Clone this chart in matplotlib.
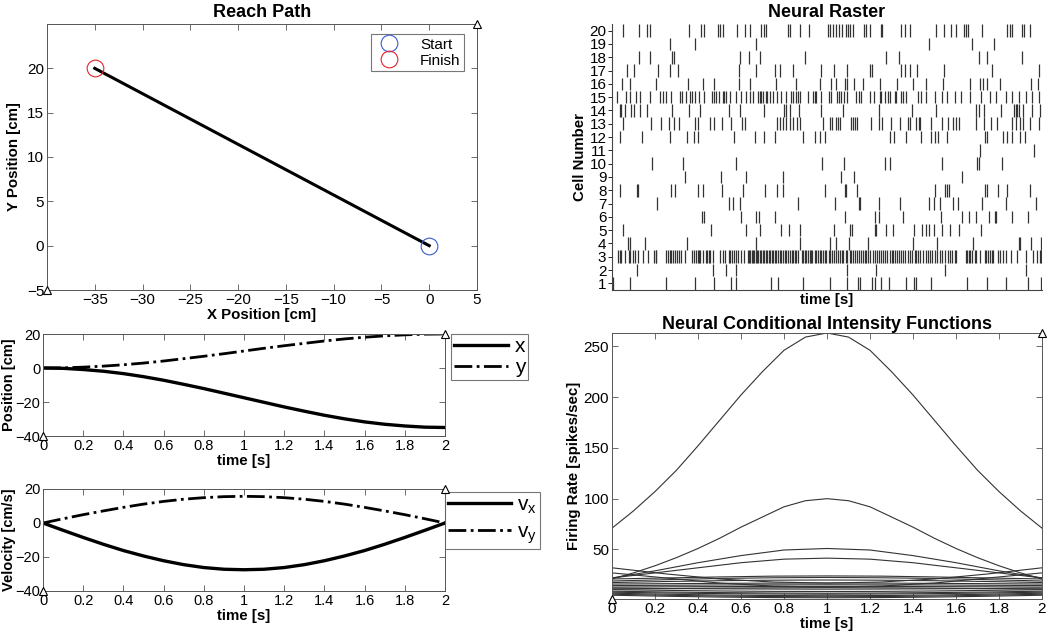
import numpy as np
import matplotlib
matplotlib.use("Agg")
import matplotlib.pyplot as plt
from matplotlib.ticker import FuncFormatter

plt.rcParams['font.family'] = ['Liberation Sans', 'DejaVu Sans']

# ---------------- data ----------------
# reach path (cm)
path_x = [0, -35]
path_y = [0, 20]
start_pt = (0, 0)
finish_pt = (-35, 20)

# position / velocity vs time, sampled every 0.1 s
t_kin = [0.0, 0.1, 0.2, 0.3, 0.4, 0.5, 0.6, 0.7, 0.8, 0.9, 1.0,
         1.1, 1.2, 1.3, 1.4, 1.5, 1.6, 1.7, 1.8, 1.9, 2.0]
pos_x = [0, -0.2, -0.9, -1.9, -3.3, -5.1, -7.2, -9.6, -12.1, -14.8, -17.5,
         -20.2, -22.9, -25.4, -27.8, -29.9, -31.7, -33.1, -34.1, -34.8, -35]
pos_y = [0, 0.1, 0.5, 1.1, 1.9, 2.9, 4.1, 5.5, 6.9, 8.4, 10.0,
         11.6, 13.1, 14.5, 15.9, 17.1, 18.1, 18.9, 19.5, 19.9, 20]
vel_x = [0, -4.3, -8.5, -12.5, -16.2, -19.4, -22.2, -24.5, -26.2, -27.2, -27.5,
         -27.2, -26.2, -24.5, -22.2, -19.4, -16.2, -12.5, -8.5, -4.3, 0]
vel_y = [0, 2.5, 4.9, 7.1, 9.2, 11.1, 12.7, 14.0, 14.9, 15.5, 15.7,
         15.5, 14.9, 14.0, 12.7, 11.1, 9.2, 7.1, 4.9, 2.5, 0]

# spike times (s) for each cell, cell 1 .. 20
spikes = {
    1: [0.005, 0.085, 0.253, 0.384, 0.473, 0.555, 0.575, 0.738, 0.772, 0.888, 1.012, 1.093, 1.144,
        1.155, 1.209, 1.222, 1.253, 1.288, 1.369, 1.403, 1.412, 1.485, 1.651, 1.744, 1.834, 1.935, 1.997],
    2: [0.116, 0.470, 0.529, 0.578, 1.093, 1.226, 1.550, 1.927],
    3: [0.028, 0.036, 0.043, 0.059, 0.079, 0.085, 0.098, 0.105, 0.121, 0.144, 0.167, 0.195, 0.203,
        0.206, 0.250, 0.260, 0.268, 0.276, 0.284, 0.291, 0.302, 0.312, 0.322, 0.338, 0.374, 0.381,
        0.392, 0.400, 0.405, 0.411, 0.423, 0.436, 0.442, 0.451, 0.457, 0.470, 0.501, 0.516, 0.524,
        0.544, 0.550, 0.560, 0.566, 0.575, 0.586, 0.602, 0.612, 0.633, 0.637, 0.643, 0.650, 0.656,
        0.662, 0.668, 0.674, 0.681, 0.687, 0.695, 0.702, 0.709, 0.715, 0.721, 0.730, 0.736, 0.743,
        0.749, 0.758, 0.764, 0.772, 0.780, 0.786, 0.795, 0.805, 0.811, 0.820, 0.826, 0.836, 0.842,
        0.851, 0.857, 0.867, 0.882, 0.888, 0.898, 0.904, 0.912, 0.919, 0.926, 0.932, 0.943, 0.950,
        0.958, 0.966, 0.974, 0.981, 0.991, 0.997, 1.009, 1.016, 1.025, 1.031, 1.040, 1.050, 1.059,
        1.068, 1.074, 1.087, 1.093, 1.105, 1.113, 1.121, 1.130, 1.140, 1.149, 1.160, 1.167, 1.175,
        1.183, 1.191, 1.202, 1.214, 1.223, 1.233, 1.242, 1.251, 1.260, 1.270, 1.279, 1.291, 1.301,
        1.307, 1.315, 1.326, 1.335, 1.346, 1.353, 1.361, 1.377, 1.384, 1.397, 1.408, 1.416, 1.425,
        1.434, 1.447, 1.459, 1.470, 1.481, 1.490, 1.501, 1.512, 1.524, 1.536, 1.547, 1.563, 1.574,
        1.583, 1.594, 1.602, 1.645, 1.651, 1.660, 1.667, 1.673, 1.687, 1.695, 1.710, 1.733, 1.741,
        1.749, 1.757, 1.766, 1.772, 1.795, 1.806, 1.819, 1.831, 1.857, 1.884, 1.924, 1.958, 1.977,
        1.989, 1.997],
    4: [0.074, 0.082, 0.152, 0.349, 0.668, 0.873, 1.016, 1.043, 1.102, 1.191, 1.400, 1.512, 1.679,
        1.893, 1.899, 1.950, 1.997],
    5: [0.051, 0.462, 0.625, 0.687, 0.788, 0.823, 0.873, 1.031, 1.105, 1.118, 1.222, 1.229, 1.273,
        1.307, 1.403, 1.443, 1.459, 1.474, 1.496, 1.536, 1.574, 1.614, 1.718],
    6: [0.420, 0.426, 0.602, 0.671, 0.682, 0.760, 1.082, 1.222, 1.242, 1.353, 1.532, 1.629, 1.660,
        1.691, 1.753, 1.780, 1.784, 1.862, 1.935],
    7: [0.211, 0.544, 0.563, 0.594, 0.865, 1.037, 1.149, 1.155, 1.242, 1.338, 1.473, 1.498, 1.524,
        1.586, 1.609, 1.722, 1.834, 1.971],
    8: [0.036, 0.116, 0.122, 0.276, 0.291, 0.400, 0.423, 0.513, 0.609, 0.710, 0.767, 0.795, 0.989,
        1.082, 1.090, 1.140, 1.501, 1.547, 1.558, 1.567, 1.733, 1.744, 1.795, 1.837, 1.946],
    9: [0.338, 0.509, 0.625, 0.795, 1.064, 1.124, 1.628],
    10: [0.188, 0.330, 0.578, 0.977, 1.078, 1.268, 1.291, 1.536, 1.699, 1.705, 1.816],
    11: [1.710, 1.961],
    12: [0.039, 0.141, 0.268, 0.349, 0.381, 0.400, 0.566, 0.664, 0.705, 0.760, 0.888, 0.943, 0.969,
         0.992, 1.291, 1.312, 1.369, 1.439, 1.485, 1.501, 1.516, 1.558, 1.734, 1.745, 1.819, 1.836,
         1.862, 1.896, 1.919],
    13: [0.051, 0.183, 0.229, 0.265, 0.287, 0.310, 0.384, 0.400, 0.457, 0.473, 0.512, 0.555, 0.606,
         0.620, 0.767, 0.780, 0.795, 0.811, 0.826, 0.842, 0.861, 0.873, 0.981, 1.016, 1.025, 1.040,
         1.053, 1.062, 1.113, 1.121, 1.129, 1.141, 1.206, 1.242, 1.257, 1.296, 1.341, 1.377, 1.384,
         1.416, 1.426, 1.434, 1.485, 1.536, 1.563, 1.586, 1.598, 1.614, 1.692, 1.729, 1.764, 1.791,
         1.862, 1.878, 1.896, 1.912, 1.946, 1.986],
    14: [0.036, 0.043, 0.060, 0.090, 0.101, 0.129, 0.163, 0.281, 0.357, 0.408, 0.544, 0.594, 0.705,
         0.798, 0.811, 0.829, 0.870, 0.974, 1.074, 1.242, 1.397, 1.505, 1.695, 1.707, 1.729, 1.811,
         1.868, 1.877, 1.884, 1.891, 1.912, 1.955, 1.989],
    15: [0.025, 0.064, 0.085, 0.110, 0.129, 0.175, 0.222, 0.237, 0.253, 0.276, 0.315, 0.327, 0.346,
         0.364, 0.372, 0.388, 0.405, 0.426, 0.465, 0.474, 0.485, 0.496, 0.516, 0.521, 0.532, 0.547,
         0.578, 0.602, 0.622, 0.643, 0.656, 0.681, 0.687, 0.695, 0.702, 0.715, 0.721, 0.733, 0.749,
         0.767, 0.788, 0.811, 0.834, 0.842, 0.854, 0.865, 0.873, 0.912, 0.935, 0.943, 0.950, 0.974,
         1.009, 1.020, 1.048, 1.056, 1.067, 1.078, 1.095, 1.133, 1.149, 1.160, 1.198, 1.217, 1.245,
         1.253, 1.268, 1.284, 1.291, 1.315, 1.322, 1.343, 1.353, 1.369, 1.423, 1.439, 1.462, 1.501,
         1.536, 1.560, 1.594, 1.625, 1.664, 1.718, 1.757, 1.788, 1.831, 1.862, 1.893, 1.924, 1.955,
         1.986],
    16: [0.048, 0.085, 0.206, 0.353, 0.423, 0.474, 0.589, 0.643, 0.764, 0.857, 0.969, 1.020, 1.042,
         1.082, 1.093, 1.124, 1.167, 1.245, 1.327, 1.400, 1.459, 1.540, 1.664, 1.713, 1.726, 1.744,
         1.806, 1.950, 1.981],
    17: [0.071, 0.101, 0.216, 0.271, 0.307, 0.591, 0.668, 0.757, 0.780, 0.842, 0.974, 1.033, 1.093,
         1.202, 1.211, 1.343, 1.361, 1.388, 1.420, 1.543, 1.767, 1.984],
    18: [0.124, 0.175, 0.279, 0.287, 0.595, 0.637, 0.690, 0.896, 1.273, 1.333, 1.707, 1.744, 1.909],
    19: [0.271, 0.384, 0.668, 1.474, 1.674, 1.775],
    20: [0.051, 0.124, 0.164, 0.178, 0.357, 0.412, 0.426, 0.495, 0.504, 0.516, 0.581, 0.619, 0.640,
         0.693, 0.705, 0.718, 0.817, 0.826, 0.876, 0.915, 1.006, 1.016, 1.028, 1.040, 1.056, 1.071,
         1.087, 1.098, 1.109, 1.121, 1.170, 1.183, 1.202, 1.250, 1.257, 1.346, 1.361, 1.388, 1.505,
         1.544, 1.578, 1.602, 1.636, 1.645, 1.656, 1.721, 1.837, 1.850, 1.862, 1.907, 1.915, 1.946],
}

# conditional intensity functions (spikes/sec)
t_fine = t_kin
cif_fine = [
    [71, 88, 107, 128, 152, 177, 202, 225, 246, 259, 263, 259, 246, 225, 202, 177, 152, 128, 107, 88, 71],
    [21, 27, 34, 42, 51, 61, 72, 82, 92, 98, 100, 98, 92, 82, 72, 61, 51, 42, 34, 27, 21],
]
t_mid = [0.0, 0.2, 0.4, 0.6, 0.8, 1.0, 1.2, 1.4, 1.6, 1.8, 2.0]
cif_mid = [
    [22, 29, 37, 44, 49.5, 51, 49.5, 44, 37, 29, 22],
    [22, 27, 32, 37, 40.5, 41.5, 40.5, 37, 32, 27, 22],
]
t_coarse = [0.0, 0.25, 0.5, 0.75, 1.0, 1.25, 1.5, 1.75, 2.0]
cif_coarse = [
    [32, 26, 21, 18, 17, 18, 21, 26, 32],
    [27, 22, 17, 14, 13, 14, 17, 22, 27],
    [21, 22, 23, 23.8, 24, 23.8, 23, 22, 21],
    [19, 20.3, 21.5, 22.2, 22.5, 22.2, 21.5, 20.3, 19],
    [17.5, 18.5, 19.3, 19.8, 20, 19.8, 19.3, 18.5, 17.5],
    [16, 16.4, 16.7, 16.9, 17, 16.9, 16.7, 16.4, 16],
    [14.5, 14.8, 15.1, 15.2, 15.3, 15.2, 15.1, 14.8, 14.5],
    [13, 13.3, 13.5, 13.6, 13.7, 13.6, 13.5, 13.3, 13],
    [11, 11.5, 12, 12.3, 12.5, 12.3, 12, 11.5, 11],
    [12, 11.6, 11.3, 11.1, 11, 11.1, 11.3, 11.6, 12],
    [10.5, 9.8, 9.2, 8.8, 8.7, 8.8, 9.2, 9.8, 10.5],
    [9, 8.2, 7.6, 7.2, 7, 7.2, 7.6, 8.2, 9],
    [8, 7.2, 6.6, 6.2, 6, 6.2, 6.6, 7.2, 8],
    [7, 6, 5.2, 4.7, 4.5, 4.7, 5.2, 6, 7],
    [6, 5, 4.2, 3.7, 3.5, 3.7, 4.2, 5, 6],
    [5, 4, 3.2, 2.7, 2.5, 2.7, 3.2, 4, 5],
]

# ---------------- figure ----------------
fig = plt.figure(figsize=(10.5, 6.36), dpi=100)
TICK = 11
LAB = 10.8
TIT = 13
fmt_g = FuncFormatter(lambda v, p: '%g' % round(v, 6))


def box_style(ax, size=TICK):
    ax.tick_params(direction='in', top=True, right=True, labelsize=size, length=4,
                   width=0.6, color='#555555', pad=2)
    for s in ax.spines.values():
        s.set_linewidth(0.7)
        s.set_color('#555555')


def corner_marks(ax):
    x0, x1 = ax.get_xlim()
    y0, y1 = ax.get_ylim()
    ax.plot([x0, x1], [y0, y1], ls='none', marker='^', ms=6, mfc='white', mec='k',
            mew=0.8, clip_on=False, zorder=10)


# Reach path
ax1 = fig.add_axes([47 / 1050, 1 - 290 / 636, 430 / 1050, 266 / 636])
ax1.plot(path_x, path_y, color='k', lw=2.2)
ax1.plot(*start_pt, ls='none', marker='o', ms=12, mfc='none', mec='#3a5bd0', mew=0.8, label='Start')
ax1.plot(*finish_pt, ls='none', marker='o', ms=12, mfc='none', mec='#e8202a', mew=0.8, label='Finish')
ax1.set_xlim(-40, 5)
ax1.set_ylim(-5, 25)
ax1.set_xticks(np.arange(-35, 6, 5))
ax1.set_yticks(np.arange(-5, 21, 5))
box_style(ax1)
ax1.set_xlabel('X Position [cm]', fontsize=LAB, fontweight='bold', labelpad=1)
ax1.set_ylabel('Y Position [cm]', fontsize=LAB, fontweight='bold')
ax1.set_title('Reach Path', fontsize=TIT, fontweight='bold', pad=5)
leg = ax1.legend(loc='upper right', fontsize=11, fancybox=False, edgecolor='#555555',
                 borderpad=0.2, labelspacing=0.15, handletextpad=1.0, borderaxespad=0.6,
                 bbox_to_anchor=(0.99, 0.995))
leg.get_frame().set_linewidth(0.8)
corner_marks(ax1)

# Position
ax2 = fig.add_axes([43 / 1050, 1 - 436 / 636, 402 / 1050, 102 / 636])
ax2.plot(t_kin, pos_x, color='k', lw=2.4, label='x')
ax2.plot(t_kin, pos_y, color='k', lw=2.0, ls='-.', label='y')
ax2.set_xlim(0, 2)
ax2.set_ylim(-40, 20)
ax2.set_xticks(np.arange(0, 2.01, 0.2))
ax2.set_yticks([-40, -20, 0, 20])
ax2.xaxis.set_major_formatter(fmt_g)
box_style(ax2, 10.5)
ax2.set_xlabel('time [s]', fontsize=LAB, fontweight='bold', labelpad=1)
ax2.set_ylabel('Position [cm]', fontsize=10.5, fontweight='bold')
ax2.yaxis.set_label_coords(-0.066, 0.5)
leg = ax2.legend(loc='upper left', bbox_to_anchor=(1.015, 1.0), fontsize=15, fancybox=False,
                 edgecolor='#555555', handlelength=2.6, borderpad=0.15, labelspacing=0.1,
                 handletextpad=0.3, borderaxespad=0)
leg.get_frame().set_linewidth(0.8)
corner_marks(ax2)

# Velocity
ax3 = fig.add_axes([43 / 1050, 1 - 591 / 636, 402 / 1050, 102 / 636])
ax3.plot(t_kin, vel_x, color='k', lw=2.4, label=r'v$_\mathregular{x}$')
ax3.plot(t_kin, vel_y, color='k', lw=2.0, ls='-.', label=r'v$_\mathregular{y}$')
ax3.set_xlim(0, 2)
ax3.set_ylim(-40, 20)
ax3.set_xticks(np.arange(0, 2.01, 0.2))
ax3.set_yticks([-40, -20, 0, 20])
ax3.xaxis.set_major_formatter(fmt_g)
box_style(ax3, 10.5)
ax3.set_xlabel('time [s]', fontsize=LAB, fontweight='bold', labelpad=1)
ax3.set_ylabel('Velocity [cm/s]', fontsize=10.5, fontweight='bold')
ax3.yaxis.set_label_coords(-0.066, 0.5)
leg = ax3.legend(loc='upper left', bbox_to_anchor=(1.0, 0.97), fontsize=15, fancybox=False,
                 edgecolor='#555555', handlelength=3.0, borderpad=0.15, labelspacing=0.3,
                 handletextpad=0.3, borderaxespad=0)
leg.get_frame().set_linewidth(0.8)
corner_marks(ax3)

# Neural raster
ax4 = fig.add_axes([612 / 1050, 1 - 290 / 636, 430 / 1050, 266 / 636])
cells = sorted(spikes)
ax4.eventplot([spikes[c] for c in cells], lineoffsets=cells, linelengths=0.95,
              colors='#333333', linewidths=0.9)
ax4.set_xlim(0, 2)
ax4.set_ylim(0.5, 20.5)
ax4.set_yticks(cells)
ax4.set_xticks([])
ax4.spines['top'].set_visible(False)
ax4.spines['right'].set_visible(False)
for s in ('left', 'bottom'):
    ax4.spines[s].set_linewidth(0.8)
    ax4.spines[s].set_color('#444444')
ax4.tick_params(axis='y', direction='out', length=3, width=0.6, labelsize=TICK, pad=1)
ax4.set_xlabel('time [s]', fontsize=LAB, fontweight='bold', labelpad=2)
ax4.set_ylabel('Cell Number', fontsize=LAB, fontweight='bold', labelpad=2)
ax4.set_title('Neural Raster', fontsize=TIT, fontweight='bold', pad=5)

# Conditional intensity functions
ax5 = fig.add_axes([612 / 1050, 1 - 599 / 636, 430 / 1050, 266 / 636])
for vals in cif_fine:
    ax5.plot(t_fine, vals, color='#333333', lw=0.8)
for vals in cif_mid:
    ax5.plot(t_mid, vals, color='#333333', lw=0.8)
for vals in cif_coarse:
    ax5.plot(t_coarse, vals, color='#333333', lw=0.8)
all_vals = [v for grp in (cif_fine, cif_mid, cif_coarse) for row in grp for v in row]
ax5.set_xlim(0, 2)
ax5.set_ylim(1.3, max(all_vals))
ax5.set_xticks(np.arange(0, 2.01, 0.2))
ax5.set_yticks([50, 100, 150, 200, 250])
ax5.xaxis.set_major_formatter(fmt_g)
box_style(ax5)
ax5.set_xlabel('time [s]', fontsize=LAB, fontweight='bold', labelpad=1)
ax5.set_ylabel('Firing Rate [spikes/sec]', fontsize=LAB, fontweight='bold', labelpad=2)
ax5.set_title('Neural Conditional Intensity Functions', fontsize=TIT, fontweight='bold', pad=3)
corner_marks(ax5)

fig.savefig('out.png', dpi=100, facecolor='white')
